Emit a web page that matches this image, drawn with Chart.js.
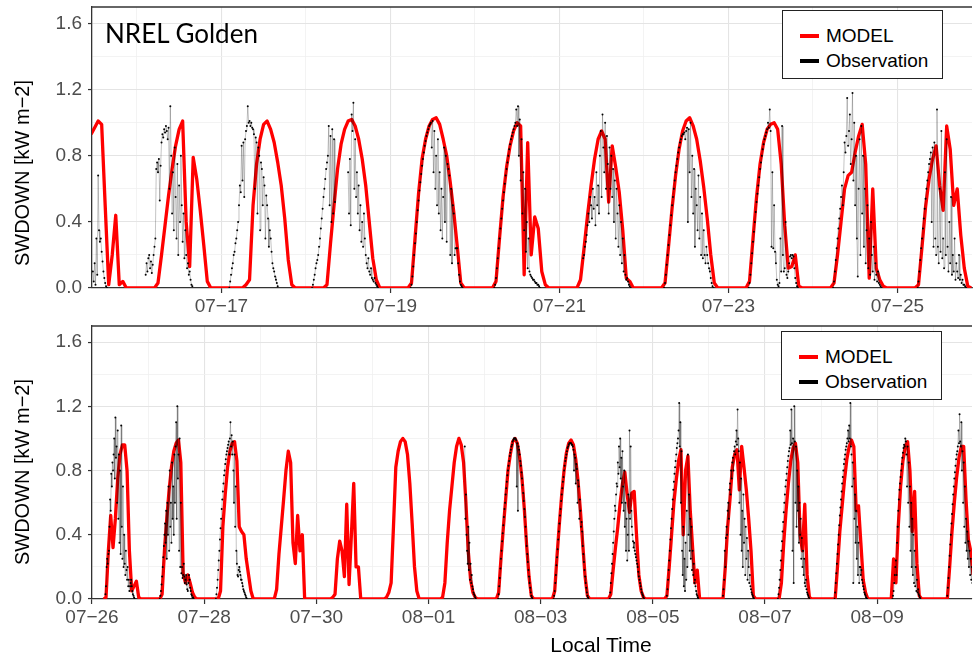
<!DOCTYPE html>
<html>
<head>
<meta charset="utf-8">
<script src="https://cdn.jsdelivr.net/npm/chart.js@4.4.1/dist/chart.umd.min.js"></script>
<style>
  html, body { margin: 0; padding: 0; background: #fff; }
  body { width: 976px; height: 659px; position: relative; overflow: hidden; font-family: 'Liberation Sans', Arial, sans-serif; }
  .panel { position: absolute; left: 0; width: 976px; }
  .ytitle { position: absolute; left: 22px; font-size: 20px; color: #000; white-space: nowrap; transform: translate(-50%, -50%) rotate(-90deg); }
  .xtitle { position: absolute; left: 601px; top: 645px; font-size: 21px; color: #000; white-space: nowrap; transform: translate(-50%, -50%); }
  .site { position: absolute; left: 105px; top: 20px; font-family: Lato, 'Open Sans', sans-serif; font-size: 26px; line-height: 26px; color: #000; white-space: nowrap; }
  .legend { position: absolute; box-sizing: border-box; width: 161px; height: 69px; border: 1.3px solid #222; background: #fff; font-size: 19px; color: #000; }
  .legend .row { position: absolute; left: 0; height: 24px; line-height: 24px; padding-left: 43px; white-space: nowrap; }
  .legend .key { position: absolute; left: 17px; top: 10px; width: 19px; height: 4px; }
</style>
</head>
<body>
<div class="panel" style="top:0; height:320px;"><canvas id="c1"></canvas></div>
<div class="panel" style="top:320px; height:339px;"><canvas id="c2"></canvas></div>

<div class="site">NREL Golden</div>
<div class="ytitle" style="top:173px;">SWDOWN [kW m−2]</div>
<div class="ytitle" style="top:472px;">SWDOWN [kW m−2]</div>
<div class="xtitle">Local Time</div>

<div class="legend" style="left:782px; top:10px;">
  <div class="row" style="top:13px;"><span class="key" style="background:#ff0000"></span>MODEL</div>
  <div class="row" style="top:38px;"><span class="key" style="background:#000"></span>Observation</div>
</div>
<div class="legend" style="left:781px; top:331px;">
  <div class="row" style="top:13px;"><span class="key" style="background:#ff0000"></span>MODEL</div>
  <div class="row" style="top:38px;"><span class="key" style="background:#000"></span>Observation</div>
</div>

<script>
// ------------------------------------------------------------
// SWDOWN at NREL Golden [kW m-2]
// days are counted in July days, so 32 = 08-01, 41 = 08-10
// ------------------------------------------------------------

// axes
const yGrid = [0, 0.2, 0.4, 0.6, 0.8, 1.0, 1.2, 1.4, 1.6]
const yLabels = ['0.0', '', '0.4', '', '0.8', '', '1.2', '', '1.6']
const xGrid1 = [16, 17, 18, 19, 20, 21, 22, 23, 24, 25]
const xLabels1 = ['', '07−17', '', '07−19', '', '07−21', '', '07−23', '', '07−25']
const xGrid2 = [26, 27, 28, 29, 30, 31, 32, 33, 34, 35, 36, 37, 38, 39, 40, 41]
const xLabels2 = ['07−26', '', '07−28', '', '07−30', '', '08−01', '', '08−03', '', '08−05', '', '08−07', '', '08−09', '']
const xRange1 = [15.469, 25.883]
const xRange2 = [26, 41.69]

// MODEL, hourly values 05:00 .. 21:00 each day
const modelHours = [5, 6, 7, 8, 9, 10, 11, 12, 13, 14, 15, 16, 17, 18, 19, 20, 21]
const modelDays1 = [15, 16, 17, 18, 19, 20, 21, 22, 23, 24, 25]
const model1 = [
  [null, null, null, null, null, null, .93, .97, 1.01, .99, .5, .02, .2, .44, .02, .04, 0],
  [0, .03, .2, .38, .56, .72, .86, .96, 1.01, .4, .13, .79, .66, .47, .26, .04, 0],
  [0, 0, .02, .05, .5, .75, .9, .99, 1.01, .96, .88, .76, .62, .42, .17, .02, 0],
  [0, .02, .27, .5, .72, .87, .96, 1.01, 1.02, .98, .9, .78, .62, .4, .18, .05, 0],
  [0, .03, .3, .57, .78, .9, .98, 1.02, 1.03, .99, .9, .8, .64, .46, .25, .03, 0],
  [0, .04, .3, .55, .73, .86, .95, 1.0, .98, .08, .88, .2, .43, .36, .1, .02, 0],
  [0, .05, .24, .44, .62, .78, .9, .95, .9, .52, .86, .73, .58, .35, .06, .04, 0],
  [0, .03, .25, .48, .68, .84, .95, 1.01, 1.03, .98, .9, .77, .61, .42, .2, .03, 0],
  [0, .04, .3, .55, .75, .88, .96, .99, 1.0, .96, .75, .38, .12, .13, .2, .01, 0],
  [0, .03, .2, .4, .6, .68, .7, .82, .92, .99, .75, .06, .6, .12, .05, .01, 0],
  [0, .02, .25, .49, .66, .78, .86, .62, .47, .98, .84, .5, .6, .32, .12, .01, 0]
]
const modelDays2 = [26, 27, 28, 29, 30, 31, 32, 33, 34, 35, 36, 37, 38, 39, 40, 41]
const model2 = [
  [0, .01, .3, .52, .32, .5, .75, .9, .96, .96, .8, .3, .05, .08, .11, .01, 0],
  [0, .03, .3, .5, .68, .82, .92, .97, .99, .85, .16, .1, .15, .1, .04, .01, 0],
  [0, 0, .05, .45, .65, .82, .92, .97, .98, .86, .45, .42, .4, .25, .15, .05, 0],
  [0, 0, .06, .28, .45, .62, .8, .92, .85, .35, .22, .52, .3, .4, 0, 0, 0],
  [0, 0, .01, .03, .25, .36, .3, .14, .59, .09, .4, .72, .2, .2, 0, 0, 0],
  [0, .01, .04, .1, .45, .82, .92, .98, 1.0, .98, .9, .72, .47, .2, .05, 0, 0],
  [0, .01, .1, .35, .55, .7, .85, .95, 1.0, .96, .85, .6, .3, .12, .04, .01, 0],
  [0, .04, .25, .44, .62, .8, .9, .98, 1.0, .97, .88, .75, .56, .33, .14, .02, 0],
  [0, .05, .27, .47, .65, .8, .91, .97, .99, .96, .87, .73, .55, .34, .14, .02, 0],
  [0, .03, .18, .32, .45, .6, .72, .79, .65, .54, .66, .67, .4, .15, .05, .01, 0],
  [0, .02, .2, .4, .6, .74, .86, .93, .4, .8, .89, .55, .32, .1, .18, 0, 0],
  [0, 0, .2, .45, .62, .82, .9, .93, .68, .95, .82, .68, .5, .3, .02, 0, 0],
  [0, 0, .1, .35, .55, .72, .86, .94, .97, .85, .4, .3, .59, .15, .01, 0, 0],
  [0, 0, .2, .42, .58, .74, .87, .95, .99, .95, .55, .58, .35, .12, .04, 0, 0],
  [0, 0, .25, .1, .45, .7, .86, .95, .98, .8, .42, .67, .22, .02, 0, 0, 0],
  [0, 0, .2, .42, .6, .76, .88, .95, .95, .62, .37, .3, .15, .05, 0, 0, 0]
]

// Observation, 15 min samples, each row starts at obsDay + obsHour
const obsStep = 0.25
const obsDay1 = [15, 16, 17, 18, 18, 19, 20, 21, 22, 23, 24, 25]
const obsHour1 = [11.5, 2.5, 2.25, 1.75, 12, 5.75, 5.5, 6.75, 5.75, 5.75, 5.75, 5.75]
const obs1 = [
  [.1, .04, .15, .02, .3, .08, .68, .35, .28, .3, .22, .16, .1, .06, .03, .01, 0],
  [.08, .15, .1, .18, .2, .12, .16, .09, .14, .2, .25, .3, .72, .76, .7, .78, .53, .74, .88, .93, .91, .96, .94, .98, .95, .9, .97, .6, 1.1, .8, .45, .7, .35, .85, .55, .3, .75, .2, .62, .4, .8, .5, .28, .45, .18, .35, .2, .12, .15, .08, .1, .05, .02, .01],
  [0, .04, .08, .12, .15, .2, .22, .27, .3, .35, .4, .5, .62, .58, .86, .65, .88, .55, .9, .95, .98, 1.1, 1.0, 1.01, .98, 1.0, .97, .96, .93, .6, .91, .88, .45, .85, .8, .35, .76, .72, .5, .67, .62, .3, .56, .5, .42, .25, .35, .3, .22, .15, .12, .1, .07, .05, .03, .01],
  [0, .02, .05, .08, .12, .15, .17, .2, .25, .3, .36, .42, .48, .55, .6, .66, .72, .76, .8, .98, .5, .92, .4, .96, .45, .9, .52],
  [.7, .45, .78, .38, 1.05, .95, 1.12, .6, .9, .55, .7, .45, .62, .35, .5, .28, .4, .25, .45, .3, .2, .15, .12, .18, .1, .08, .12, .06, .05, .04, .06, .03, .02, .01, 0],
  [0, .02, .07, .13, .2, .27, .33, .4, .47, .53, .59, .64, .69, .74, .78, .82, .86, .89, .92, .94, .96, .98, .99, 1.0, .85, 1.01, .7, .95, .6, .8, .5, .9, .45, .7, .35, .6, .3, .55, .85, .4, .8, .28, .75, .72, .68, .2, .6, .15, .5, .45, .2, .24, .24, .24, .15, .08, .04, .02, .01, 0],
  [0, .02, .06, .12, .18, .24, .3, .36, .42, .48, .53, .58, .63, .68, .72, .76, .8, .84, .87, .9, .92, .94, .96, .98, 1.0, 1.08, .98, 1.1, .8, 1.02, .65, .9, .45, .7, .35, .6, .22, .4, .12, .3, .1, .08, .07, .06, .05, .05, .04, .03, .03, .02, .02, .01, 0],
  [.18, .2, .25, .28, .32, .38, .45, .4, .55, .5, .42, .6, .48, .55, .38, .7, .5, .62, .45, .8, .95, .55, 1.05, .85, .7, 1.0, .6, .92, .75, .45, .85, .6, .8, .55, .72, .4, .65, .3, .6, .45, .25, .5, .2, .4, .15, .3, .1, .2, .08, .05, .06, .04, .02, .01, 0],
  [0, .03, .08, .14, .2, .26, .32, .38, .44, .5, .55, .6, .65, .7, .74, .78, .82, .85, .88, .9, .92, .93, .93, .94, .9, .95, .97, .4, .96, .7, 1.0, .55, .8, .45, .72, .25, .6, .5, .35, .68, .3, .55, .2, .45, .18, .35, .2, .15, .25, .2, .15, .12, .1, .06, .03, .01, 0],
  [0, .03, .08, .15, .21, .28, .34, .4, .46, .52, .57, .62, .67, .72, .76, .8, .84, .87, .9, .92, .94, .96, 1.0, .97, 1.08, .95, .25, .7, .24, .5, .22, .15, .05, .02, .01, .03, .3, .1, .98, .2, .1, .12, .4, .08, .06, .1, .15, .19, .2, .18, .2, .19, .12, .06, .03, .01, 0],
  [0, .04, .1, .17, .24, .3, .36, .42, .48, .55, .62, .5, .7, .88, .82, .92, 1.15, .86, .95, 1.05, .75, .9, 1.18, .65, 1.0, .5, .8, .3, .07, .6, .9, .2, .98, .45, .8, .25, .6, .15, .35, .5, .12, .3, .08, .4, .2, .1, .25, .05, .15, .08, .04, .1, .03, .02, .01, 0],
  [0, .04, .1, .17, .24, .3, .36, .42, .48, .54, .6, .65, .7, .75, .78, .82, .4, .85, .25, .88, .3, .2, 1.08, .25, .15, .6, .22, .95, .18, .3, .12, .7, .2, .9, .25, .1, .4, .15, .55, .08, .2, .1, .3, .05, .15, .1, .06, .2, .05, .08, .03, .05, .02, .02, .01, 0]
]
const obsDay2 = [26, 27, 28, 32, 33, 34, 35, 36, 37, 38, 39, 40, 41]
const obsHour2 = [5.75, 5, 5, 15.5, 5.75, 5.5, 5.5, 6, 6, 5.5, 5.75, 6.5, 6]
const obs2 = [
  [.03, .08, .2, .25, .22, .28, .3, .45, .62, .55, .78, .7, .85, .8, .9, 1.0, .75, 1.13, .88, .95, .6, 1.05, .5, .9, .35, .8, .28, 1.08, .45, .25, .7, .2, .4, .22, .15, .3, .18, .12, .2, .08, .12, .05, .08, .1, .12, .08, .05, .03, .02, .01, 0],
  [0, .02, .05, .09, .14, .2, .26, .33, .4, .47, .35, .55, .25, .6, .4, .7, .3, .8, .45, .6, .35, .85, .5, .7, .4, .9, .6, .95, 1.1, .5, 1.2, .75, .9, .3, 1.0, .2, .6, .16, .2, .13, .15, .22, .14, .1, .12, .15, .09, .06, .05, .1, .15, .12, .07, .05, .03, .02, .01, .01, 0],
  [0, .03, .07, .12, .18, .24, .3, .37, .44, .5, .56, .62, .67, .72, .77, .8, .84, .87, .9, .92, .94, .96, .98, .9, 1.0, 1.1, .95, 1.02, .9, .98, .8, .6, .9, .45, .7, .3, .22, .15, .14, .18, .2, .17, .15, .12, .12, .1, .08, .06, .05, .04, .03, .02, .01, 0],
  [.95, .5, .65, .4, .3, .22, .45, .18, .35, .12, .22, .1, .15, .08, .06, .04, .03, .02, .01, 0],
  [0, .03, .08, .13, .19, .25, .3, .36, .41, .46, .51, .56, .6, .65, .69, .73, .77, .8, .83, .86, .89, .91, .93, .95, .96, .98, .99, 1.0, 1.0, 1.0, 1.0, .99, .7, .97, .55, .95, .93, .9, .86, .83, .79, .75, .71, .66, .61, .56, .51, .45, .39, .33, .28, .23, .18, .14, .1, .07, .04, .02, .01, 0],
  [0, .02, .05, .1, .15, .21, .26, .31, .37, .42, .47, .52, .56, .61, .65, .69, .73, .76, .8, .83, .86, .88, .9, .92, .94, .95, .96, .97, .97, .97, .97, .96, .96, .95, .93, .8, .9, .88, .72, .84, .81, .6, .74, .7, .5, .62, .55, .45, .48, .42, .33, .28, .23, .18, .14, .1, .07, .04, .02, .01, 0],
  [0, .04, .1, .16, .22, .28, .35, .42, .5, .58, .55, .65, .72, .7, .85, .78, .95, .82, 1.0, .75, .88, .6, .92, .7, .55, .8, .45, .6, .3, .5, .24, .4, .65, .3, 1.05, .5, .95, .55, .45, .4, .36, .32, .35, .3, .28, .26, .24, .22, .2, .17, .14, .12, .1, .08, .06, .04, .03, .02, .01, 0],
  [.02, .06, .12, .18, .24, .3, .37, .44, .5, .56, .62, .68, .73, .78, .82, .86, .9, .94, .97, 1.0, 1.05, 1.22, .95, 1.1, .6, .92, .3, .15, .45, .08, .25, .05, .35, .12, .55, .2, .9, .4, .65, .3, .5, .25, .45, .18, .3, .15, .22, .1, .12, .08, .05, .03, .02, .01, 0],
  [.02, .06, .12, .3, .2, .38, .45, .4, .55, .6, .5, .68, .72, .65, .8, .75, .85, .88, .8, .92, .95, .9, .98, 1.05, .96, 1.18, 1.0, .92, .6, .85, .4, .75, .3, .55, .2, .65, .35, .5, .15, .45, .25, .38, .12, .3, .2, .1, .15, .08, .06, .04, .03, .02, .01, 0],
  [0, .03, .07, .12, .18, .24, .3, .36, .42, .48, .54, .6, .65, .7, .74, .78, .82, .86, .89, .92, .94, 1.05, .96, 1.18, .97, .3, 1.0, .1, 1.2, .98, .6, .95, .45, .8, .55, .7, .35, .6, .4, .5, .25, .38, .2, .3, .15, .25, .1, .08, .12, .06, .04, .03, .02, .01, 0],
  [0, .04, .1, .16, .22, .28, .34, .4, .46, .52, .57, .62, .67, .72, .76, .8, .84, .87, .9, .93, .95, .97, 1.0, 1.05, .98, 1.08, 1.0, 1.22, .95, .9, .7, .85, .1, .75, .5, .65, .35, .55, .25, .45, .15, .35, .1, .2, .2, .15, .18, .12, .1, .08, .06, .04, .03, .02, .01, 0, 0],
  [0, .02, .05, .1, .15, .2, .24, .15, .35, .45, .55, .62, .68, .72, .76, .8, .84, .88, .91, .94, .96, .95, 1.0, .98, .9, .7, .95, .6, .85, .45, .7, .3, .6, .2, .5, .15, .4, .1, .3, .08, .2, .05, .12, .04, .06, .03, .02, .01, 0],
  [.02, .07, .13, .2, .27, .34, .4, .47, .53, .59, .65, .7, .75, .79, .83, .87, .9, .92, .95, 1.05, .97, 1.15, .98, .95, 1.1, .8, .92, .6, .85, .45, .7, .35, .5, .3, .42, .25, .36, .2, .3, .15, .25, .12, .2, .1, .08, .06]
]

;(function () {
    'use strict';

    Chart.defaults.font.family = "'Liberation Sans', Arial, sans-serif"

    function modelPoints(days, rows) {
        let pts = []
        days.forEach((d, i) => {
            rows[i].forEach((v, j) => pts.push({ x: d + modelHours[j] / 24, y: v }))
        })
        return pts
    }

    // one block per row, a null point keeps blocks from being joined
    function obsPoints(days, hours, rows) {
        let pts = []
        rows.forEach((row, i) => {
            let x = 0
            row.forEach((v, k) => {
                x = days[i] + (hours[i] + k * obsStep) / 24
                pts.push({ x: x, y: v })
            })
            pts.push({ x: x + 0.001, y: null })
        })
        return pts
    }

    // ggplot style box: only the top edge is missing from chart.js borders
    const frameTop = {
        id: 'frameTop',
        beforeDatasetsDraw(chart) {
            const { ctx, chartArea: a } = chart
            ctx.save()
            ctx.strokeStyle = '#333'
            ctx.lineWidth = 1.3
            ctx.beginPath()
            ctx.moveTo(a.left, a.top)
            ctx.lineTo(a.right, a.top)
            ctx.stroke()
            ctx.restore()
        }
    }

    function makePanel(id, p) {
        return new Chart(document.getElementById(id), {
            type: 'line',
            data: {
                datasets: [
                    {
                        label: 'Observation', data: p.obs, order: 0, showLine: true, spanGaps: false,
                        borderColor: 'rgba(0,0,0,0.4)', borderWidth: 0.6,
                        pointRadius: 1, pointBackgroundColor: '#000', pointBorderWidth: 0
                    },
                    {
                        label: 'MODEL', data: p.model, order: 1, borderColor: '#ff0000', borderWidth: 3.3,
                        pointRadius: 0, borderJoinStyle: 'round', spanGaps: false, tension: 0
                    }
                ]
            },
            options: {
                responsive: true,
                maintainAspectRatio: false,
                animation: false,
                parsing: false,
                events: [],
                layout: { padding: { top: p.top, right: 0, bottom: 0, left: 0 } },
                plugins: { legend: { display: false }, tooltip: { enabled: false } },
                scales: {
                    x: {
                        type: 'linear', min: p.xRange[0], max: p.xRange[1],
                        afterFit: s => { s.height = p.xAxisH; s.paddingLeft = 0; s.paddingRight = 0 },
                        afterBuildTicks: s => { s.ticks = p.xGrid.map(v => ({ value: v })) },
                        ticks: {
                            autoSkip: false, maxRotation: 0, padding: 2, color: '#4d4d4d',
                            font: { size: 19 }, callback: (v, i) => p.xLabels[i]
                        },
                        grid: {
                            color: c => p.xLabels[c.index] ? '#e4e4e4' : '#f0f0f0',
                            lineWidth: c => p.xLabels[c.index] ? 1.1 : 0.8,
                            tickLength: 5, tickWidth: 1.2,
                            tickColor: c => p.xLabels[c.index] ? '#333' : 'rgba(0,0,0,0)'
                        },
                        border: { display: true, color: '#333', width: 1.3 }
                    },
                    y: {
                        type: 'linear', min: 0, max: 1.7,
                        afterFit: s => { s.width = 92; s.paddingTop = 0; s.paddingBottom = 0 },
                        afterBuildTicks: s => { s.ticks = yGrid.map(v => ({ value: v })) },
                        ticks: {
                            padding: 6, color: '#4d4d4d', font: { size: 19 },
                            callback: (v, i) => yLabels[i]
                        },
                        grid: {
                            color: c => yLabels[c.index] ? '#e4e4e4' : '#f0f0f0',
                            lineWidth: c => yLabels[c.index] ? 1.1 : 0.8,
                            tickLength: 4, tickWidth: 1.2,
                            tickColor: c => yLabels[c.index] ? '#333' : 'rgba(0,0,0,0)'
                        },
                        border: { display: true, color: '#333', width: 1.3 }
                    }
                }
            },
            plugins: [frameTop]
        })
    }

    makePanel('c1', {
        model: modelPoints(modelDays1, model1),
        obs: obsPoints(obsDay1, obsHour1, obs1),
        xRange: xRange1, xGrid: xGrid1, xLabels: xLabels1,
        top: 7, xAxisH: 32
    })
    makePanel('c2', {
        model: modelPoints(modelDays2, model2),
        obs: obsPoints(obsDay2, obsHour2, obs2),
        xRange: xRange2, xGrid: xGrid2, xLabels: xLabels2,
        top: 6, xAxisH: 60
    })
})()
</script>
</body>
</html>
